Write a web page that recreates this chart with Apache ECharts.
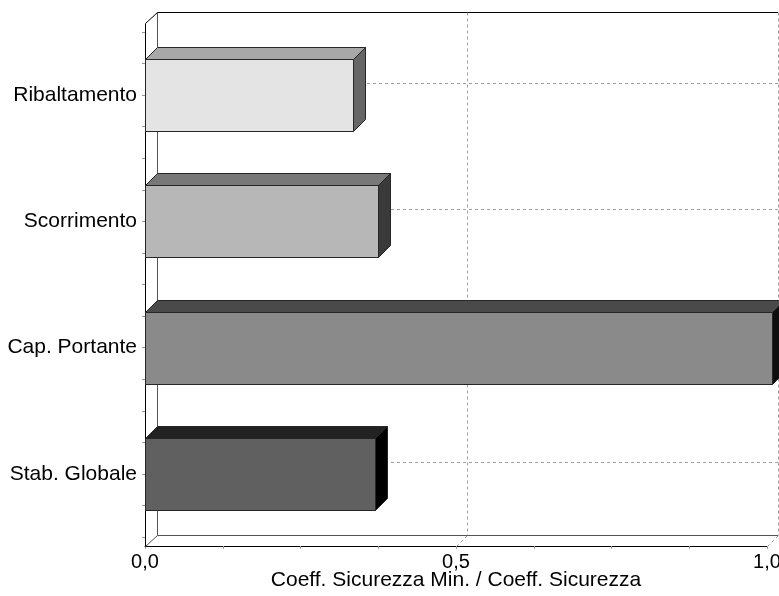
<!DOCTYPE html>
<html>
<head>
<meta charset="utf-8">
<style>
  html, body { margin: 0; padding: 0; background: #ffffff; }
  #chart { width: 779px; height: 596px; }
</style>
<script src="https://cdn.jsdelivr.net/npm/echarts@6/dist/echarts.min.js"></script>
</head>
<body>
<div id="chart"></div>
<script>
// Verifiche di stabilità: rapporto tra coefficiente minimo e coefficiente di sicurezza
const categories = ['Ribaltamento', 'Scorrimento', 'Cap. Portante', 'Stab. Globale'];
const ratios = [0.335, 0.375, 1.008, 0.370];
const xTickValues = [0, 0.5, 1.0];
const xTickLabels = ['0,0', '0,5', '1,0'];

// Face colours for each bar (front, top, side)
const frontColors = ['#e4e4e4', '#b7b7b7', '#8a8a8a', '#606060'];
const topColors   = ['#a8a8a8', '#787878', '#4a4a4a', '#222222'];
const sideColors  = ['#666666', '#3a3a3a', '#0e0e0e', '#000000'];

const FONT = 'Liberation Sans, Arial, sans-serif';
const DEPTH_X = 12;      // horizontal depth shift of the 3D box
const DEPTH_Y = 11;      // vertical depth shift of the 3D box
const FLOOR_GAP = 9;     // front floor line sits below the category band
const TOP_PAD = 9;       // front frame extends above the category band
const BAR_DEPTH = 12;    // depth of each bar
const HALF_BAR = 0.285;  // half bar thickness in category units

const chart = echarts.init(document.getElementById('chart'), null, { renderer: 'canvas' });

function renderFrame(params, api) {
  const cs = params.coordSys;
  const x = cs.x, y = cs.y, w = cs.width, h = cs.height;
  const frontBottom = Math.round(y + h + FLOOR_GAP) + 0.5;
  const backBottom = frontBottom - DEPTH_Y;
  const frontTop = Math.round(y - TOP_PAD) + 0.5;
  const backTop = frontTop - DEPTH_Y;
  const dash = { stroke: '#a0a0a0', lineWidth: 1, lineDash: [3, 3] };
  const children = [];

  // category grid lines on the back wall
  categories.forEach(function (c, i) {
    const py = Math.round(api.coord([0, i])[1] - DEPTH_X) + 0.5;
    children.push({ type: 'line', shape: { x1: x + DEPTH_X, y1: py, x2: x + w + DEPTH_Y, y2: py }, style: dash });
  });
  // value grid lines: floor diagonal + back wall vertical
  xTickValues.forEach(function (v) {
    if (v === 0) return;
    const px = Math.round(api.coord([v, 0])[0]) + 0.5;
    children.push({ type: 'line', shape: { x1: px + DEPTH_Y, y1: backTop, x2: px + DEPTH_Y, y2: backBottom }, style: dash });
    children.push({ type: 'line', shape: { x1: px, y1: frontBottom, x2: px + DEPTH_Y, y2: backBottom }, style: dash });
  });

  const solid = { stroke: '#000000', lineWidth: 1 };
  const grey = { stroke: '#555555', lineWidth: 1 };
  const X = Math.round(x) + 0.5;
  const right = Math.round(x + w) + DEPTH_Y;
  // back wall
  children.push({ type: 'line', shape: { x1: X + DEPTH_X, y1: backTop, x2: right, y2: backTop }, style: solid });
  children.push({ type: 'line', shape: { x1: X + DEPTH_X, y1: backTop, x2: X + DEPTH_X, y2: backBottom }, style: grey });
  children.push({ type: 'line', shape: { x1: X + DEPTH_X, y1: backBottom, x2: right, y2: backBottom }, style: grey });
  // left edge of the box
  children.push({ type: 'line', shape: { x1: X, y1: frontTop, x2: X + DEPTH_X, y2: backTop }, style: solid });
  children.push({ type: 'line', shape: { x1: X, y1: frontBottom, x2: X + DEPTH_X, y2: backBottom }, style: grey });
  children.push({ type: 'line', shape: { x1: X, y1: frontTop, x2: X, y2: frontBottom }, style: solid });

  return { type: 'group', children: children, silent: true };
}

function renderBar(params, api) {
  const idx = api.value(1);
  const val = api.value(0);
  const a = api.coord([0, idx - HALF_BAR]);
  const b = api.coord([val, idx + HALF_BAR]);
  const x0 = Math.round(a[0]) + 0.5, x1 = Math.round(b[0]) + 0.5;
  const yT = Math.round(Math.min(a[1], b[1])) + 0.5, yB = Math.round(Math.max(a[1], b[1])) + 0.5;
  const d = BAR_DEPTH;
  const stroke = { stroke: '#262626', lineWidth: 1, lineJoin: 'miter' };
  const i = params.dataIndex;
  return {
    type: 'group',
    children: [
      { type: 'polygon', shape: { points: [[x0, yT], [x0 + d, yT - d], [x1 + d, yT - d], [x1, yT]] },
        style: Object.assign({ fill: topColors[i] }, stroke) },
      { type: 'polygon', shape: { points: [[x1, yT], [x1 + d, yT - d], [x1 + d, yB - d], [x1, yB]] },
        style: Object.assign({ fill: sideColors[i] }, stroke) },
      { type: 'rect', shape: { x: x0, y: yT, width: x1 - x0, height: yB - yT },
        style: Object.assign({ fill: frontColors[i] }, stroke) }
    ]
  };
}

const option = {
  backgroundColor: '#ffffff',
  animation: false,
  grid: { left: 145, right: 12, top: 32, bottom: 59, containLabel: false, outerBoundsMode: 'none' },
  xAxis: {
    type: 'value',
    min: 0,
    max: 1,
    interval: 0.5,
    offset: FLOOR_GAP,
    name: 'Coeff. Sicurezza Min. / Coeff. Sicurezza',
    nameLocation: 'middle',
    nameGap: 24,
    nameMoveOverlap: false,
    nameTextStyle: { fontFamily: FONT, fontSize: 21, color: '#000' },
    axisLine: { show: true, onZero: false, lineStyle: { color: '#000', width: 1 } },
    axisTick: { show: true, length: 3, lineStyle: { color: '#999' } },
    minorTick: { show: true, splitNumber: 4, length: 3, lineStyle: { color: '#999' } },
    splitLine: { show: false },
    axisLabel: {
      margin: 6,
      fontFamily: FONT, fontSize: 20, color: '#000',
      formatter: function (v) {
        const k = xTickValues.indexOf(Math.round(v * 100) / 100);
        return k >= 0 ? xTickLabels[k] : '';
      }
    }
  },
  yAxis: {
    type: 'value',
    min: -0.5,
    max: 3.5,
    interval: 0.25,
    inverse: true,
    axisLine: { show: false },
    axisTick: { show: true, length: 3, lineStyle: { color: '#999' } },
    splitLine: { show: false },
    axisLabel: {
      margin: 8,
      fontFamily: FONT, fontSize: 21, color: '#000',
      formatter: function (v) {
        return Number.isInteger(v) && v >= 0 && v < categories.length ? categories[v] : '';
      }
    }
  },
  series: [
    {
      type: 'custom',
      renderItem: renderFrame,
      data: [[0, 0]],
      encode: { x: 0, y: 1 },
      z: 1,
      silent: true
    },
    {
      type: 'custom',
      renderItem: renderBar,
      data: ratios.map(function (v, i) { return [v, i]; }),
      encode: { x: 0, y: 1 },
      z: 5
    }
  ]
};

chart.setOption(option);
</script>
</body>
</html>
